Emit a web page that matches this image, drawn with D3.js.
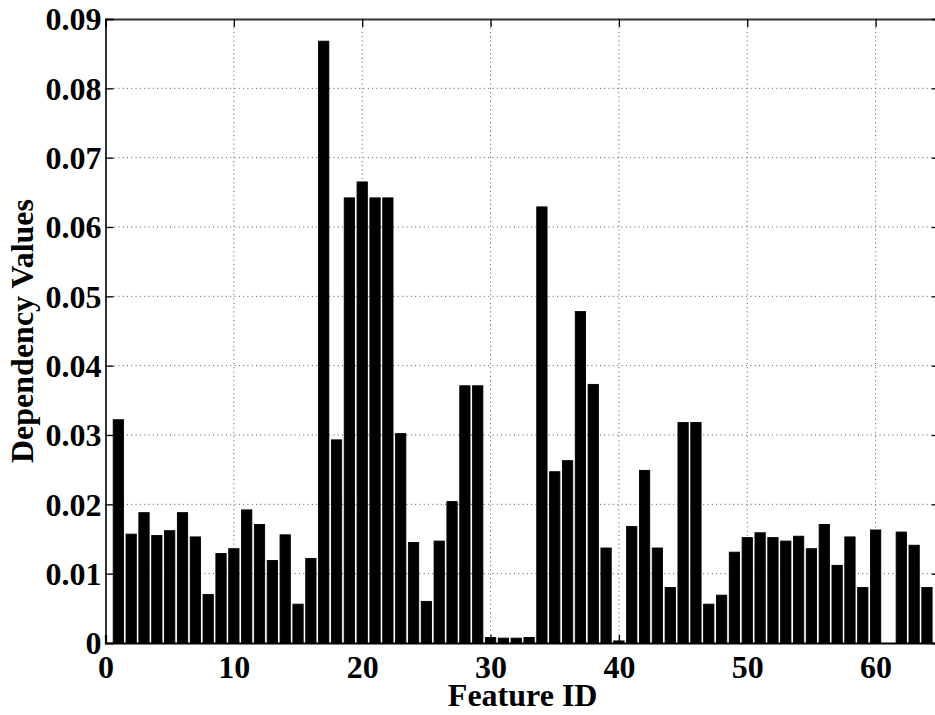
<!DOCTYPE html>
<html>
<head>
<meta charset="utf-8">
<script src="https://cdn.jsdelivr.net/npm/d3@7"></script>
<style>
  html, body { margin: 0; padding: 0; background: #fff; overflow: hidden; }
  svg { display: block; }
  text { font-family: "Liberation Serif", "Times New Roman", serif; font-weight: bold; fill: #000; }
</style>
</head>
<body>
<svg id="chart" width="935" height="715"></svg>
<script>
// Feature IDs 1..64 and their dependency values
const featureIds = d3.range(1, 65);
const dependencyValues = [
  0.0322, 0.0157, 0.0188, 0.0155, 0.0162, 0.0188, 0.0153, 0.0070,
  0.0129, 0.0136, 0.0192, 0.0171, 0.0119, 0.0156, 0.0056, 0.0122,
  0.0868, 0.0293, 0.0642, 0.0665, 0.0642, 0.0642, 0.0302, 0.0145,
  0.0060, 0.0147, 0.0204, 0.0371, 0.0371, 0.0008, 0.0007, 0.0007,
  0.0008, 0.0629, 0.0247, 0.0263, 0.0478, 0.0373, 0.0137, 0.0003,
  0.0168, 0.0249, 0.0137, 0.0080, 0.0318, 0.0318, 0.0056, 0.0069,
  0.0131, 0.0152, 0.0159, 0.0152, 0.0147, 0.0154, 0.0136, 0.0171,
  0.0112, 0.0153, 0.0080, 0.0163, 0.0000, 0.0160, 0.0141, 0.0080
];
const xTicks = [0, 10, 20, 30, 40, 50, 60];
const yTicks = [0, 0.01, 0.02, 0.03, 0.04, 0.05, 0.06, 0.07, 0.08, 0.09];
const xDomain = [0, 65];
const yDomain = [0, 0.09];
const xTitle = "Feature ID";
const yTitle = "Dependency Values";

const svg = d3.select("#chart");
const plotLeft = 105.5, plotRight = 939.8, plotTop = 19, plotBottom = 643;
const fontFamily = "'Liberation Serif', 'Times New Roman', serif";

const x = d3.scaleLinear().domain(xDomain).range([plotLeft, plotRight]);
const y = d3.scaleLinear().domain(yDomain).range([plotBottom, plotTop]);
const barW = (x(1) - x(0)) * 0.8;

// dotted grid
const grid = svg.append("g");
grid.selectAll("line.gx").data(xTicks.filter(d => d > 0)).join("line")
  .attr("class", "gx")
  .attr("x1", d => x(d)).attr("x2", d => x(d))
  .attr("y1", plotTop).attr("y2", plotBottom)
  .attr("stroke", "#555").attr("stroke-width", 1)
  .attr("stroke-dasharray", "1,3.3");
grid.selectAll("line.gy").data(yTicks.filter(d => d > 0 && d < 0.09)).join("line")
  .attr("class", "gy")
  .attr("x1", plotLeft).attr("x2", plotRight)
  .attr("y1", d => y(d)).attr("y2", d => y(d))
  .attr("stroke", "#555").attr("stroke-width", 1)
  .attr("stroke-dasharray", "1,3.3");

// bars
svg.append("g").selectAll("rect").data(featureIds).join("rect")
  .attr("x", (d) => x(d) - barW / 2)
  .attr("width", barW)
  .attr("y", (d, i) => y(dependencyValues[i]))
  .attr("height", (d, i) => y(0) - y(dependencyValues[i]))
  .attr("fill", "#000")
  .attr("stroke", "#000")
  .attr("stroke-width", 0.9);

// axes built from d3 axis generators, with inward ticks
const tickLen = 8;
const xBottom = svg.append("g").attr("transform", `translate(0,${plotBottom})`)
  .call(d3.axisBottom(x).tickValues(xTicks).tickSize(-tickLen).tickPadding(20)
    .tickFormat(d3.format("d")));
const xTop = svg.append("g").attr("transform", `translate(0,${plotTop})`)
  .call(d3.axisTop(x).tickValues(xTicks).tickSize(-tickLen).tickFormat(""));
const yLeft = svg.append("g").attr("transform", `translate(${plotLeft},0)`)
  .call(d3.axisLeft(y).tickValues(yTicks).tickSize(-tickLen).tickPadding(4)
    .tickFormat(d => d === 0 ? "0" : d3.format(".2f")(d)));
const yRight = svg.append("g").attr("transform", `translate(${plotRight},0)`)
  .call(d3.axisRight(y).tickValues(yTicks).tickSize(-tickLen).tickFormat(""));

[xBottom, xTop, yLeft, yRight].forEach(g => {
  g.attr("font-family", fontFamily).attr("font-size", 32);
  g.selectAll(".domain").attr("stroke", "#000").attr("stroke-width", 1.6);
  g.selectAll(".tick line").attr("stroke", "#000").attr("stroke-width", 1.3);
  g.selectAll("text").attr("font-size", 32).attr("font-family", fontFamily)
    .attr("font-weight", "bold").attr("fill", "#000");
});
xTop.select(".domain").attr("stroke", "#333").attr("stroke-width", 2);
xBottom.select(".domain").attr("stroke-width", 2.2);
xBottom.selectAll(".tick text").attr("dy", null).attr("y", 35);
yLeft.selectAll(".tick text").attr("dy", "0.34em");

// axis titles
svg.append("text")
  .attr("x", (plotLeft + plotRight) / 2).attr("y", 706)
  .attr("text-anchor", "middle").attr("font-size", 32)
  .attr("font-family", fontFamily).attr("font-weight", "bold")
  .text(xTitle);
svg.append("text")
  .attr("transform", `translate(33,${(plotTop + plotBottom) / 2}) rotate(-90)`)
  .attr("text-anchor", "middle").attr("font-size", 32)
  .attr("font-family", fontFamily).attr("font-weight", "bold")
  .text(yTitle);
</script>
</body>
</html>
